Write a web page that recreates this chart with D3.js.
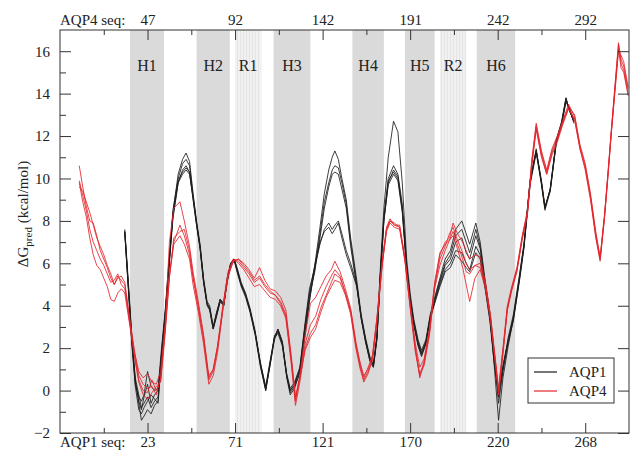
<!DOCTYPE html>
<html>
<head>
<meta charset="utf-8">
<script src="https://cdn.jsdelivr.net/npm/d3@7"></script>
<style>
  body { margin: 0; background: #fff; }
  svg text { font-family: "Liberation Serif", "Times New Roman", Tinos, "Noto Serif", "DejaVu Serif", serif; fill: #222; }
</style>
</head>
<body>
<svg id="chart" width="630" height="452"></svg>
<script>
// alignment positions and helix / re-entrant loop regions
const bandNames = ["H1", "H2", "R1", "H3", "H4", "H5", "R2", "H6"];
const bandStart = [40, 78, 100, 122, 167, 197, 217, 238];
const bandEnd = [59.4, 97, 115, 143, 185, 214, 232, 260];

const tickPos = [50, 100, 150, 200, 250, 300];
const aqp1Ticks = ["23", "71", "121", "170", "220", "268"];
const aqp4Ticks = ["47", "92", "142", "191", "242", "292"];

// AQP4 (red), 4 runs
const aqp4Pos = [11,13,15,17,19,21,23,25,27,29,31,33,35,37,
  40,42.5,45,47.5,50,52.5,55,57.5,60,62.5,65,
  68.5,71,74,76,79,82,85,87.5,90,93,96,99,
  102,105,108,111,114,117,120,123,126,129,132,
  134.5,137,140,143,146,149,152,155,157,160,163,166,169,
  171.5,173.5,176,178.5,181,184,186.5,188.5,191,194,197,200,203,
  205.5,208,211,214,217,220,222.5,224.5,227,230,232,234,237,240,243,246,
  248.5,250.5,253,255.5,258,261,264,267,269.5,272,275,278,281,284,287,
  290.5,294,297,300,303,306,308.5,311,313,315,317,319,320.5,322,324.5];
const aqp4Run1 = [10.6,9.6,8.7,8.0,7.9,7.3,6.6,6.2,5.8,5.3,5.0,5.4,5.2,5.0,
  3.2,1.8,0.9,0.6,0.8,0.4,0.3,0.9,3.0,7.0,8.6,
  8.9,8.0,6.8,5.6,4.2,2.6,0.5,0.9,2.0,3.8,5.4,6.1,
  6.2,6.0,5.7,5.3,5.8,5.2,4.8,4.7,4.4,3.8,1.7,
  -0.3,0.7,2.6,4.1,4.4,4.9,5.4,5.7,6.1,5.6,4.8,3.9,2.3,
  1.2,0.6,1.1,1.6,3.4,6.1,7.7,8.1,7.8,7.8,6.3,4.1,2.2,
  1.1,1.5,2.9,5.0,6.4,7.0,7.2,7.9,7.4,7.0,6.6,6.2,6.4,6.3,5.1,3.5,
  1.6,0.1,2.0,4.0,4.9,5.8,7.3,8.5,10.9,12.6,11.3,10.4,11.4,12.0,12.7,
  13.5,12.9,11.6,10.7,9.3,7.5,6.3,8.3,10.3,12.4,14.4,16.4,15.6,15.3,14.2];
const aqp4Run2 = [9.9,9.2,8.5,7.6,7.0,6.6,6.2,5.9,5.5,5.1,5.2,5.5,5.0,4.8,
  3.1,1.7,0.5,0.0,-0.1,0.5,0.0,0.5,2.8,5.5,7.0,
  7.8,7.3,6.4,5.3,3.9,2.4,0.6,1.0,2.1,3.9,5.5,6.2,
  6.1,5.8,5.5,5.1,5.3,4.9,4.6,4.5,4.2,3.6,1.5,
  -0.5,0.6,2.2,3.1,3.5,4.3,4.9,5.4,5.7,5.4,4.6,3.8,2.2,
  1.3,0.7,1.0,1.7,3.4,6.0,7.6,8.0,7.9,7.7,6.2,4.0,1.9,
  0.8,1.3,2.7,4.9,6.2,6.8,7.4,7.7,7.1,6.5,6.0,5.7,5.9,6.0,5.0,3.4,
  1.5,-0.1,1.8,3.9,4.8,5.7,7.2,8.4,10.8,12.5,11.2,10.3,11.3,11.9,12.6,
  13.4,13.0,11.5,10.6,9.2,7.4,6.2,8.2,10.2,12.3,14.3,16.3,15.4,15.1,14.0];
const aqp4Run3 = [9.8,8.9,8.2,7.2,6.4,5.9,5.7,5.3,4.9,4.3,4.2,4.6,4.8,4.6,
  3.0,1.6,0.4,-0.2,-0.4,-0.1,0.2,0.4,2.6,5.3,7.2,
  7.5,7.6,6.6,5.4,4.0,2.6,0.7,1.0,2.1,4.0,5.6,6.2,
  6.0,5.7,5.3,4.9,5.0,4.7,4.4,4.3,4.0,3.4,1.3,
  -0.7,0.4,2.0,2.7,3.1,3.9,4.5,5.1,5.5,5.3,4.6,3.7,2.1,
  1.1,0.4,0.8,1.5,3.3,5.9,7.5,7.9,7.7,7.6,6.1,3.9,1.8,
  0.7,1.2,2.6,4.8,5.9,6.6,7.1,7.5,6.9,6.2,5.6,5.5,5.9,5.8,4.9,3.3,
  1.4,-0.2,1.7,3.8,4.7,5.6,7.1,8.3,10.6,12.3,11.0,10.2,11.1,11.7,12.5,
  13.3,12.8,11.4,10.4,9.0,7.2,6.1,8.1,10.1,12.2,14.1,16.0,15.8,15.5,14.3];
const aqp4Run4 = [9.6,9.4,8.9,8.4,7.8,7.2,6.8,6.4,5.9,5.5,5.0,5.3,5.4,5.1,
  3.3,1.9,0.7,0.3,0.1,0.2,-0.2,0.6,2.9,5.4,6.9,
  7.3,6.9,6.2,5.0,3.7,2.2,0.3,0.7,1.8,3.8,5.4,6.1,
  6.2,5.9,5.6,5.2,5.4,5.0,4.7,4.5,4.1,3.5,1.6,
  -0.4,0.6,1.9,2.5,2.9,3.7,4.4,4.9,5.2,5.1,4.5,3.6,2.0,
  1.0,0.5,0.9,1.4,3.2,5.9,7.6,8.0,7.8,7.7,6.2,4.0,2.0,
  0.6,1.4,2.8,5.1,6.5,6.9,7.1,7.3,6.7,5.8,5.0,4.2,5.3,5.7,4.8,3.3,
  1.5,0.0,1.9,3.8,4.8,5.7,7.2,8.4,10.7,12.4,11.1,10.2,11.2,11.8,12.6,
  13.3,12.7,11.4,10.5,9.1,7.3,6.2,8.2,10.2,12.3,14.2,16.1,15.2,15.0,13.9];

// AQP1 (black), 5 runs
const aqp1Pos = [37,39,41,43,45,46.5,48,50,52,54,56,58,
  60,62,64.5,67.5,70,72,74,76,78,80,82,84,
  85.5,87.5,89.5,91.5,93.5,95.5,97.5,99.5,101.5,103.5,106,108.5,
  111.5,114.5,117.5,120,122.5,124.5,127,129.5,131.5,134,137,140,
  142.5,145.5,148.5,151,153.5,155.5,157,159,161,163.5,166,169.5,
  172,174.5,177,179,181,183,185,187.5,190.5,193,195.5,198,
  200,202,204.5,206.5,209,211.5,214,217,220,223,226,229.5,
  232,234,237.5,240,243,245.5,248,250.5,253,256,259,262.5,
  265,268.5,272,275,277,280,283.5,286.5,289,291,293.5];
const aqp1Run1 = [7.6,5.2,2.6,0.5,-0.6,-1.4,-1.2,-0.9,-1.1,-0.7,-0.5,1.4,
  3.4,5.6,8.4,10.2,10.9,11.2,10.8,9.3,8.0,6.9,5.3,4.2,
  4.0,3.0,3.7,4.3,4.1,5.3,6.0,6.2,5.7,5.1,4.6,3.9,
  2.8,1.3,0.1,1.2,2.5,2.9,2.3,0.7,-0.1,0.2,0.8,2.6,
  4.2,5.9,7.7,9.3,10.4,11.0,11.3,10.9,10.0,9.0,7.2,5.2,
  3.6,2.5,1.6,1.2,2.6,5.8,8.6,11.0,12.7,12.2,9.8,6.2,
  4.6,3.4,2.4,1.9,2.4,3.6,4.4,5.3,6.2,6.6,7.6,8.0,
  7.4,6.9,7.9,7.0,5.1,3.7,1.2,-1.4,0.6,2.1,3.4,5.3,
  6.8,9.9,11.4,9.8,8.6,9.5,11.8,12.6,13.8,13.2,12.7];
const aqp1Run2 = [7.5,5.0,2.4,0.6,-0.2,-0.8,-0.6,-0.3,-0.8,-0.5,-0.3,1.8,
  3.6,5.7,8.5,10.0,10.7,10.9,10.6,9.2,7.9,6.8,5.2,4.1,
  3.9,2.95,3.6,4.3,4.0,5.2,6.0,6.2,5.6,5.0,4.5,3.8,
  2.7,1.2,0.0,1.3,2.6,2.8,2.2,0.6,-0.2,0.1,0.9,2.8,
  4.3,5.7,7.4,8.9,9.8,10.4,10.6,10.5,9.8,8.8,7.0,5.0,
  3.5,2.4,1.5,1.2,2.5,5.6,8.2,10.0,10.6,10.2,8.8,5.9,
  4.4,3.3,2.3,1.8,2.3,3.5,4.3,5.2,6.0,6.4,7.3,7.6,
  7.0,6.5,7.6,6.8,5.0,3.6,1.6,-0.6,0.9,2.3,3.5,5.4,
  6.9,9.9,11.3,9.9,8.7,9.4,11.7,12.5,13.6,13.3,12.8];
const aqp1Run3 = [7.5,4.9,2.3,0.3,-0.3,-0.5,-0.2,0.9,0.2,0.0,0.1,2.0,
  3.7,5.9,8.2,9.8,10.4,10.6,10.3,9.0,7.8,6.7,5.1,4.1,
  3.8,2.9,3.6,4.2,4.0,5.2,6.0,6.2,5.5,5.0,4.5,3.8,
  2.7,1.3,0.2,1.4,2.5,2.7,2.1,0.7,0.0,0.3,1.0,3.0,
  4.5,5.6,7.2,8.6,9.6,10.2,10.3,10.2,9.5,8.6,6.8,4.9,
  3.4,2.3,1.4,1.1,2.4,5.4,8.0,9.8,10.4,10.1,8.6,5.8,
  4.3,3.2,2.2,1.7,2.2,3.4,4.2,5.1,5.9,6.2,7.0,7.2,
  6.5,6.2,7.3,6.7,4.9,3.5,1.4,-0.3,1.0,2.5,3.6,5.5,
  6.9,9.8,11.3,9.8,8.6,9.5,11.8,12.6,13.7,13.2,12.7];
const aqp1Run4 = [7.4,4.8,2.2,0.2,-0.9,-1.1,-0.8,-0.5,-0.2,-0.4,-0.6,1.6,
  3.5,5.5,8.1,9.8,10.2,10.4,10.2,9.1,7.8,6.7,5.1,4.0,
  3.8,2.9,3.5,4.2,4.0,5.1,5.9,6.1,5.5,4.9,4.4,3.7,
  2.6,1.1,0.0,1.2,2.4,2.8,2.2,0.8,0.1,0.4,1.1,3.2,
  4.8,5.8,6.9,7.6,7.9,7.6,7.8,8.0,7.4,6.6,6.0,5.0,
  3.5,2.4,1.5,1.2,2.5,5.5,8.1,9.9,10.3,10.0,8.5,5.8,
  4.3,3.2,2.2,1.7,2.3,3.5,4.2,5.0,5.7,6.0,6.6,6.5,
  6.0,5.7,6.8,6.4,4.8,3.4,1.5,-0.2,1.1,2.3,3.3,5.2,
  6.7,9.7,11.2,9.7,8.5,9.4,11.7,12.6,13.7,13.3,12.6];
const aqp1Run5 = [7.5,5.0,2.5,0.4,-0.5,-0.9,-0.3,0.3,-0.6,-0.2,0.0,1.7,
  3.5,5.6,8.3,9.9,10.3,10.5,10.3,9.1,7.9,6.8,5.2,4.1,
  3.9,3.0,3.7,4.3,4.1,5.2,6.0,6.2,5.6,5.0,4.5,3.8,
  2.7,1.2,0.1,1.3,2.5,2.9,2.3,0.7,0.0,0.3,1.0,3.1,
  4.6,5.9,7.0,7.5,7.7,7.4,7.6,7.9,7.2,6.4,5.8,4.9,
  3.4,2.3,1.4,1.1,2.4,5.4,8.0,9.7,10.2,9.9,8.4,5.7,
  4.2,3.1,2.1,1.6,2.2,3.4,4.1,4.9,5.6,5.8,6.4,6.1,
  5.8,5.6,6.5,6.2,4.7,3.3,1.3,0.0,1.2,2.4,3.4,5.3,
  6.8,9.8,11.3,9.8,8.6,9.5,11.8,12.7,13.8,13.2,12.7];

const aqp1Runs = [aqp1Run1, aqp1Run2, aqp1Run3, aqp1Run4, aqp1Run5];
const aqp4Runs = [aqp4Run1, aqp4Run2, aqp4Run3, aqp4Run4];

const svg = d3.select("#chart");
const plotL = 60, plotR = 629, plotT = 30, plotB = 433;
const x = d3.scaleLinear().domain([0, 325]).range([plotL, plotR]);
const y = d3.scaleLinear().domain([-2, 17]).range([plotB, plotT]);
const black = "#1c1c1c", red = "#e3242b";
const serif = "'Liberation Serif', 'Times New Roman', Tinos, 'Noto Serif', 'DejaVu Serif', serif";

// hatch for re-entrant loops
const defs = svg.append("defs");
const pat = defs.append("pattern").attr("id", "hatch").attr("patternUnits", "userSpaceOnUse")
  .attr("width", 3).attr("height", 10);
pat.append("rect").attr("width", 3).attr("height", 10).attr("fill", "#f1f1f1");
pat.append("line").attr("x1", 0.5).attr("x2", 0.5).attr("y1", 0).attr("y2", 10)
  .attr("stroke", "#e4e4e4").attr("stroke-width", 1);

const bands = bandNames.map((n, i) => ({ name: n, s: bandStart[i], e: bandEnd[i] }));
svg.append("g").selectAll("rect").data(bands).join("rect")
  .attr("x", d => x(d.s)).attr("width", d => x(d.e) - x(d.s))
  .attr("y", plotT).attr("height", plotB - plotT)
  .attr("fill", d => d.name[0] === "R" ? "url(#hatch)" : "#dadada");
svg.append("g").selectAll("text").data(bands).join("text")
  .attr("x", d => x((d.s + d.e) / 2)).attr("y", 71)
  .attr("text-anchor", "middle").style("font-size", "16px")
  .text(d => d.name);

// lines
const line = pos => d3.line().x((v, i) => x(pos[i])).y(v => y(v));
svg.append("g").selectAll("path").data(aqp1Runs).join("path")
  .attr("d", line(aqp1Pos)).attr("fill", "none")
  .attr("stroke", black).attr("stroke-width", 1).attr("stroke-opacity", 0.85);
svg.append("g").selectAll("path").data(aqp4Runs).join("path")
  .attr("d", line(aqp4Pos)).attr("fill", "none")
  .attr("stroke", red).attr("stroke-width", 1).attr("stroke-opacity", 0.85);

// axes (ticks inside the frame)
const minorX = [25, 75, 125, 175, 225, 275];
const axisColor = "#333";
svg.append("g").attr("transform", `translate(0,${plotB})`)
  .call(d3.axisBottom(x).tickValues(tickPos).tickSize(-10).tickFormat((d, i) => aqp1Ticks[i]).tickPadding(3))
  .call(g => g.select(".domain").remove());
svg.append("g").attr("transform", `translate(0,${plotB})`)
  .call(d3.axisBottom(x).tickValues(minorX).tickSize(-5).tickFormat(""))
  .call(g => g.select(".domain").remove());
svg.append("g").attr("transform", `translate(0,${plotT})`)
  .call(d3.axisTop(x).tickValues(tickPos).tickSize(-10).tickFormat((d, i) => aqp4Ticks[i]).tickPadding(5))
  .call(g => g.select(".domain").remove());
svg.append("g").attr("transform", `translate(0,${plotT})`)
  .call(d3.axisTop(x).tickValues(minorX).tickSize(-5).tickFormat(""))
  .call(g => g.select(".domain").remove());
svg.append("g").attr("transform", `translate(${plotL},0)`)
  .call(d3.axisLeft(y).tickValues(d3.range(-2, 17, 2)).tickSize(-11).tickPadding(10))
  .call(g => g.select(".domain").remove());
svg.append("g").attr("transform", `translate(${plotL},0)`)
  .call(d3.axisLeft(y).tickValues(d3.range(-1, 17, 2)).tickSize(-6).tickFormat(""))
  .call(g => g.select(".domain").remove());
svg.append("g").attr("transform", `translate(${plotR},0)`)
  .call(d3.axisRight(y).tickValues(d3.range(-2, 17, 2)).tickSize(-11).tickFormat(""))
  .call(g => g.select(".domain").remove());
svg.selectAll(".tick line").attr("stroke", axisColor);
svg.selectAll(".tick text").style("font-size", "15px").attr("fill", "#222")
  .style("font-family", serif);

svg.append("rect").attr("x", plotL).attr("y", plotT)
  .attr("width", plotR - plotL).attr("height", plotB - plotT)
  .attr("fill", "none").attr("stroke", axisColor).attr("stroke-width", 1);

svg.append("text").attr("x", plotL).attr("y", 25).style("font-size", "15px").text("AQP4 seq:");
svg.append("text").attr("x", plotL).attr("y", 447).style("font-size", "15px").text("AQP1 seq:");

// y label
const yl = svg.append("text").attr("transform", "translate(28,214) rotate(-90)")
  .attr("text-anchor", "middle").style("font-size", "15px");
yl.append("tspan").text("ΔG");
yl.append("tspan").attr("dy", 4).style("font-size", "11px").text("pred");
yl.append("tspan").attr("dy", -4).text(" (kcal/mol)");

// legend
const lg = svg.append("g");
lg.append("rect").attr("x", 528).attr("y", 358).attr("width", 86).attr("height", 45)
  .attr("fill", "#fff").attr("stroke", axisColor);
[["AQP1", black, 372], ["AQP4", red, 391]].forEach(([t, c, yy]) => {
  lg.append("line").attr("x1", 534).attr("x2", 557).attr("y1", yy).attr("y2", yy)
    .attr("stroke", c).attr("stroke-width", 1.2);
  lg.append("text").attr("x", 569).attr("y", yy + 5).style("font-size", "15px").text(t);
});
</script>
</body>
</html>
